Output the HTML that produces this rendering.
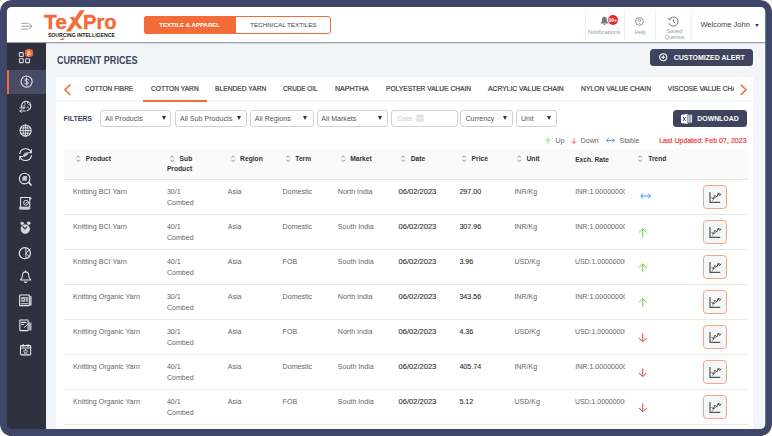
<!DOCTYPE html>
<html>
<head>
<meta charset="utf-8">
<title>TexPro - Current Prices</title>
<style>
*{box-sizing:border-box;margin:0;padding:0}
html,body{width:772px;height:436px;overflow:hidden;background:#fff}
body{font-family:"Liberation Sans",sans-serif;position:relative;color:#555}
.abs{position:absolute}
svg{position:absolute;overflow:visible}
.t{position:absolute;white-space:nowrap;line-height:1;transform-origin:left center}
#bg{left:6px;top:6px;width:760px;height:424px;background:#f2f6f9}
#header{left:6px;top:6px;width:760px;height:36.2px;background:#fff;box-shadow:0 0.6px 1.3px rgba(40,45,60,.55)}
#sidebar{left:6px;top:42.7px;width:40px;height:388px;background:#2f323e}
#sb-active{left:7px;top:69.6px;width:39px;height:24.4px;background:#474c65}
#sb-bar{left:7px;top:69.6px;width:2.3px;height:24.4px;background:#f26b38}
#tabs{left:56.4px;top:76.8px;width:696.8px;height:23.6px;background:#fff}
#tabline{left:56.4px;top:100.4px;width:696.8px;height:2px;background:#f6f9fb}
#card{left:56.4px;top:102.4px;width:696.8px;height:328px;background:#fff}
.sel{position:absolute;top:110.4px;height:16.2px;border:1px solid #d2d2d2;border-radius:3px;background:#fff}
.arr{position:absolute;top:116px;width:0;height:0;border-left:2.5px solid transparent;border-right:2.5px solid transparent;border-top:4.3px solid #2d3142}
#thead{left:64px;top:149.3px;width:683.5px;height:30.6px;background:#fafafa;border-bottom:1px solid #e4e4e4}
.rl{position:absolute;left:64px;width:683.5px;height:1px;background:#e9e9e9}
.cb{position:absolute;left:703px;width:24px;height:24px;border:1px solid #f5a587;border-radius:3.5px;background:#f5f6f7}
</style>
</head>
<body>
<div class="abs" id="bg"></div>
<div class="abs" id="header"></div>
<div class="abs" id="sidebar"></div>
<div class="abs" id="sb-active"></div>
<div class="abs" id="sb-bar"></div>
<div class="abs" id="tabs"></div>
<div class="abs" id="tabline"></div>
<div class="abs" id="card"></div>
<svg style="left:20.6px;top:20.9px" width="12" height="11" viewBox="0 0 12 11"><g stroke="#8c8c8c" stroke-width="0.85" fill="none"><path d="M0.2 2.3H6.8M0.2 5.2H10.6M0.2 8.1H6.8M7.6 1.9L11 5.2L7.6 8.5"/></g></svg>
<span class="t" style="left:44.30px;top:12px;font-size:20.4px;color:#f26b38;font-weight:bold;transform:scaleX(1.03);-webkit-text-stroke:0.35px #f26b38;">Te</span>
<span class="t" style="left:82.70px;top:12px;font-size:20.4px;color:#f26b38;font-weight:bold;transform:scaleX(0.985);-webkit-text-stroke:0.35px #f26b38;">Pro</span>
<svg style="left:58px;top:8px" width="30" height="34" viewBox="58 8 30 34"><path d="M80.1 10.3L84.8 10.3L70.6 31.6L65.9 31.6Z" fill="#f26b38"/><path d="M69.6 16.9L73.8 16.9L82.9 28.7L78.6 28.7Z" fill="#f26b38"/><path d="M60.6 38.7L64.8 38.3L64 39.7L59.8 40Z" fill="#f26b38"/></svg>
<span class="t" style="left:47.90px;top:33px;font-size:5.17px;color:#222;font-weight:bold;">SOURCING INTELLIGENCE</span>
<div class="abs" style="left:144px;top:16px;width:187px;height:17.6px;border:1px solid #f26b38;border-radius:3px;background:#fff"></div>
<div class="abs" style="left:144px;top:16px;width:92px;height:17.6px;background:#f26b38;border-radius:3px 0 0 3px"></div>
<span class="t" style="left:159.30px;top:22px;font-size:6.04px;color:#fff;font-weight:bold;">TEXTILE &amp; APPAREL</span>
<span class="t" style="left:250.20px;top:22px;font-size:6.25px;color:#444;">TECHNICAL TEXTILES</span>
<div class="abs" style="left:585.2px;top:10px;width:1px;height:30px;background:#efefef"></div>
<div class="abs" style="left:624.2px;top:10px;width:1px;height:30px;background:#efefef"></div>
<div class="abs" style="left:655.1px;top:10px;width:1px;height:30px;background:#efefef"></div>
<div class="abs" style="left:691.1px;top:10px;width:1px;height:30px;background:#efefef"></div>
<svg style="left:599.9px;top:14.9px" width="8.8" height="11.4" viewBox="0 0 11 12"><path d="M5.5 0.6C6 0.6 6.3 1 6.3 1.5C8 2 8.6 3.4 8.6 5.2C8.6 7.4 9.4 8.2 10.2 9V9.6H0.8V9C1.6 8.2 2.4 7.4 2.4 5.2C2.4 3.4 3 2 4.7 1.5C4.7 1 5 0.6 5.5 0.6Z" fill="#777"/><path d="M4.3 10.2H6.7C6.7 11 6.2 11.4 5.5 11.4C4.8 11.4 4.3 11 4.3 10.2Z" fill="#777"/></svg>
<div class="abs" style="left:607.5px;top:14.5px;width:10.8px;height:10.8px;background:#e8262c;border-radius:50%"></div>
<span class="t" style="left:608.70px;top:18px;font-size:5px;color:#fff;font-weight:bold;">99+</span>
<span class="t" style="left:588.00px;top:30px;font-size:5.95px;color:#999;">Notifications</span>
<svg style="left:635.2px;top:16.7px" width="8.8" height="8.8" viewBox="0 0 10 10"><circle cx="5" cy="5" r="4.4" fill="none" stroke="#777" stroke-width="0.9"/><path d="M3.6 4C3.6 3 4.2 2.5 5 2.5C5.9 2.5 6.4 3 6.4 3.8C6.4 4.9 5 4.9 5 6.1" fill="none" stroke="#777" stroke-width="0.9"/><circle cx="5" cy="7.5" r="0.55" fill="#777"/></svg>
<span class="t" style="left:634.40px;top:30px;font-size:5.6px;color:#999;">Help</span>
<svg style="left:667.4px;top:15.5px" width="11.8" height="11.4" viewBox="0 0 11 10.6"><path d="M2.2 3.2A4.3 4.3 0 1 1 1.9 6.6" fill="none" stroke="#777" stroke-width="0.9"/><path d="M0.6 1.8L2.1 3.6L4 2.4" fill="none" stroke="#777" stroke-width="0.9"/><path d="M6 2.9V5.4L7.7 6.5" fill="none" stroke="#777" stroke-width="0.9"/></svg>
<span class="t" style="left:666.60px;top:29px;font-size:5.6px;color:#999;">Saved</span>
<span class="t" style="left:664.60px;top:35px;font-size:5.6px;color:#999;">Queries</span>
<span class="t" style="left:700.40px;top:21px;font-size:7.51px;color:#444;">Welcome John</span>
<div class="abs" style="left:754.9px;top:23.5px;width:0;height:0;border-left:2.8px solid transparent;border-right:2.8px solid transparent;border-top:3.2px solid #3d4461"></div>
<svg style="left:16px;top:46px" width="20" height="20" viewBox="16 46 20 20"><g fill="none" stroke="#dadae2" stroke-width="1.05"><rect x="19.4" y="52.6" width="3.9" height="3.9" rx="0.6"/><rect x="19.4" y="58.7" width="3.9" height="3.9" rx="0.6"/><rect x="25.6" y="58.7" width="3.9" height="3.9" rx="0.6"/></g></svg>
<div class="abs" style="left:25px;top:48.8px;width:8.3px;height:8.6px;background:#f26b38;border-radius:3.2px"></div>
<span class="t" style="left:27.30px;top:51px;font-size:5.6px;color:#fff3e6;font-weight:bold;">β</span>
<svg style="left:19.60px;top:75.42px" width="13.2" height="13.2" viewBox="0 0 14 14"><g fill="none" stroke="#e9e9ec" stroke-width="1.1" stroke-linecap="round" stroke-linejoin="round"><circle cx="7" cy="7" r="5.9"/><path d="M8.7 5.2C8.4 4.4 7.8 4.1 7 4.1C6 4.1 5.3 4.7 5.3 5.5C5.3 7.3 8.8 6.5 8.8 8.4C8.8 9.3 8 9.9 7 9.9C6.1 9.9 5.4 9.5 5.1 8.7M7 3.1V10.9" stroke-width="0.95"/></g></svg>
<svg style="left:18.90px;top:99.74px" width="13.2" height="13.2" viewBox="0 0 14 14"><g fill="none" stroke="#e9e9ec" stroke-width="1.1" stroke-linecap="round" stroke-linejoin="round"><path d="M2.9 8.2A5 5 0 1 1 8.6 11.3"/><path d="M5.6 1.9C7 3.2 6.8 4.6 5.6 5.6C4.8 6.3 5.4 7.4 6.6 7.4M9.2 1.8C8.4 3.2 9.2 4.6 10.6 4.8C11.4 4.9 12 5.6 12.2 6.4M8.4 7.6C9.2 7.2 10.2 7.8 10 8.8" stroke-width="0.85"/><path d="M0.8 8.4H5.6M4.2 6.9L5.8 8.4L4.2 9.9M7 11.7H1M2.6 10.2L0.9 11.7L2.6 13.2" stroke-width="0.9"/></g></svg>
<svg style="left:18.90px;top:124.06px" width="13.2" height="13.2" viewBox="0 0 14 14"><g fill="none" stroke="#e9e9ec" stroke-width="1.1" stroke-linecap="round" stroke-linejoin="round"><circle cx="7" cy="7" r="5.9"/><ellipse cx="7" cy="7" rx="2.6" ry="5.9" stroke-width="0.9"/><path d="M1.2 7H12.8M2 4.2H12M2 9.8H12M7 1.1V12.9" stroke-width="0.9"/></g></svg>
<svg style="left:18.70px;top:148.38px" width="13.2" height="13.2" viewBox="0 0 14 14"><g fill="none" stroke="#e9e9ec" stroke-width="1.1" stroke-linecap="round" stroke-linejoin="round"><path d="M0.8 5.9A6.3 6.3 0 0 1 12.9 4.85M13.2 8.1A6.3 6.3 0 0 1 1.08 9.15"/><path d="M13.1 1.7V5H9.9M0.9 12.3V9H4.1" stroke-width="1.1"/><path d="M4.3 8.2C4.6 6.4 6.2 5 8.4 4.6C9.4 4.5 9.9 5.2 9.6 6C9 7.8 7.4 9 5.6 9.2C4.7 9.3 4.2 8.9 4.3 8.2Z" fill="#c6c6cc" stroke="none"/></g></svg>
<svg style="left:18.90px;top:172.70px" width="13.2" height="13.2" viewBox="0 0 14 14"><g fill="none" stroke="#e9e9ec" stroke-width="1.1" stroke-linecap="round" stroke-linejoin="round"><circle cx="5.95" cy="5.95" r="5.6"/><path d="M10.4 10.3L12.9 12.7" stroke-width="1.7"/><path d="M3.5 4.7L5 3.2H8.4V8.3H3.5Z" fill="#c6c6cc" stroke="none"/></g></svg>
<svg style="left:18.90px;top:197.02px" width="13.2" height="13.2" viewBox="0 0 14 14"><g fill="none" stroke="#e9e9ec" stroke-width="1.1" stroke-linecap="round" stroke-linejoin="round"><path d="M1.7 10.4V0.6H11.4V10.4"/><rect x="0.5" y="10.6" width="11.1" height="2.5" rx="0.8" fill="#c9c9cf" stroke-width="0.6"/><circle cx="7.4" cy="6.1" r="2.6" stroke-width="0.95"/><path d="M6.3 6.1L7.2 7L8.6 5.2" stroke-width="0.85"/><circle cx="12.4" cy="1.5" r="0.9" fill="#f1f1f1" stroke="none"/></g></svg>
<svg style="left:18.90px;top:221.34px" width="13.2" height="13.2" viewBox="0 0 14 14"><g fill="none" stroke="#e9e9ec" stroke-width="1.1" stroke-linecap="round" stroke-linejoin="round"><circle cx="6.7" cy="8.6" r="4.6" fill="#d6d6db" stroke-width="0.6"/><circle cx="3.3" cy="2.6" r="1.5" fill="#d6d6db" stroke-width="0.5"/><circle cx="10.3" cy="2.4" r="1.5" fill="#d6d6db" stroke-width="0.5"/><path d="M4.3 5.9L6.1 8.5L8.2 6.2" stroke="#2f323e" stroke-width="1.2"/></g></svg>
<svg style="left:18.90px;top:245.66px" width="13.2" height="13.2" viewBox="0 0 14 14"><g fill="none" stroke="#e9e9ec" stroke-width="1.1" stroke-linecap="round" stroke-linejoin="round"><circle cx="6.2" cy="7.6" r="5.9" stroke-width="1.25"/><path d="M7.3 2.6V12.4M12 3.2L7.5 7.6L11.2 11.8" stroke-width="1.0"/></g></svg>
<svg style="left:18.90px;top:269.98px" width="13.2" height="13.2" viewBox="0 0 14 14"><g fill="none" stroke="#e9e9ec" stroke-width="1.1" stroke-linecap="round" stroke-linejoin="round"><path d="M7 2C4.6 2 3.6 3.9 3.6 6.2C3.6 8.4 2.8 9.4 1.6 10.6H12.4C11.2 9.4 10.4 8.4 10.4 6.2C10.4 3.9 9.4 2 7 2Z"/><path d="M5.6 12.4C5.8 13 6.3 13.3 7 13.3C7.7 13.3 8.2 13 8.4 12.4M7 0.8V2"/></g></svg>
<svg style="left:18.90px;top:294.30px" width="13.2" height="13.2" viewBox="0 0 14 14"><g fill="none" stroke="#e9e9ec" stroke-width="1.1" stroke-linecap="round" stroke-linejoin="round"><rect x="0.7" y="1.1" width="10.3" height="11.3" rx="0.5" stroke-width="1.2"/><rect x="11.6" y="2.2" width="1.9" height="10" fill="#b4b4bc" stroke="none"/><rect x="2.5" y="3.2" width="7" height="5" fill="#c2c2c9" stroke="none"/><circle cx="4.3" cy="5.9" r="0.85" fill="#2f323e" stroke="none"/><path d="M7.1 4.3V8" stroke="#2f323e" stroke-width="0.9"/><path d="M2.6 10.3H9.4" stroke-width="1.2"/></g></svg>
<svg style="left:18.90px;top:318.62px" width="13.2" height="13.2" viewBox="0 0 14 14"><g fill="none" stroke="#e9e9ec" stroke-width="1.1" stroke-linecap="round" stroke-linejoin="round"><rect x="0.9" y="1.1" width="8.8" height="11.2" rx="0.5" stroke-width="1.15"/><rect x="10.2" y="3.6" width="3.1" height="8.6" fill="#a9a9b2" stroke="none"/><path d="M2.7 3.6H7.3" stroke-width="1.3"/><path d="M2.7 5.9H4.9" stroke-width="1.0"/><path d="M10.1 5L5.8 8.7" stroke-width="1.0"/></g></svg>
<svg style="left:18.90px;top:342.94px" width="13.2" height="13.2" viewBox="0 0 14 14"><g fill="none" stroke="#e9e9ec" stroke-width="1.1" stroke-linecap="round" stroke-linejoin="round"><rect x="1.6" y="2.8" width="10.8" height="9.8" rx="0.8"/><path d="M1.6 5.4H12.4M4.4 1.4V3.8M9.6 1.4V3.8"/><path d="M7 6.8L7.7 8.3L9.3 8.5L8.1 9.6L8.4 11.2L7 10.4L5.6 11.2L5.9 9.6L4.7 8.5L6.3 8.3Z" stroke-width="0.8"/></g></svg>
<span class="t" style="left:57.30px;top:56px;font-size:10.3px;color:#3d4461;font-weight:bold;transform:scaleX(0.88);">CURRENT PRICES</span>
<div class="abs" style="left:650px;top:49px;width:103px;height:17px;background:#3e445e;border-radius:3.5px"></div>
<svg style="left:658.8px;top:53.4px" width="8.4" height="8.4" viewBox="0 0 10 10"><circle cx="5" cy="5" r="4.2" fill="none" stroke="#fff" stroke-width="1.3"/><path d="M5 2.8V7.2M2.8 5H7.2" stroke="#fff" stroke-width="1.3"/></svg>
<span class="t" style="left:673.70px;top:54px;font-size:6.99px;color:#fff;font-weight:bold;">CUSTOMIZED ALERT</span>
<span class="t" style="left:85.00px;top:86px;font-size:6.7px;color:#444;transform:scaleX(0.97);-webkit-text-stroke:0.22px #444;">COTTON FIBRE</span>
<span class="t" style="left:150.60px;top:86px;font-size:6.7px;color:#444;transform:scaleX(0.996);-webkit-text-stroke:0.22px #444;">COTTON YARN</span>
<span class="t" style="left:215.00px;top:86px;font-size:6.7px;color:#444;transform:scaleX(1.0);-webkit-text-stroke:0.22px #444;">BLENDED YARN</span>
<span class="t" style="left:283.40px;top:86px;font-size:6.7px;color:#444;transform:scaleX(0.948);-webkit-text-stroke:0.22px #444;">CRUDE OIL</span>
<span class="t" style="left:335.20px;top:86px;font-size:6.7px;color:#444;transform:scaleX(1.055);-webkit-text-stroke:0.22px #444;">NAPHTHA</span>
<span class="t" style="left:386.00px;top:86px;font-size:6.7px;color:#444;transform:scaleX(0.994);-webkit-text-stroke:0.22px #444;">POLYESTER VALUE CHAIN</span>
<span class="t" style="left:487.50px;top:86px;font-size:6.7px;color:#444;transform:scaleX(1.012);-webkit-text-stroke:0.22px #444;">ACRYLIC VALUE CHAIN</span>
<span class="t" style="left:580.70px;top:86px;font-size:6.7px;color:#444;transform:scaleX(1.016);-webkit-text-stroke:0.22px #444;">NYLON VALUE CHAIN</span>
<div class="abs" style="left:667.8px;top:80px;width:66.2px;height:18px;overflow:hidden"><span class="t" style="left:0.00px;top:6px;font-size:6.7px;color:#444;-webkit-text-stroke:0.22px #444;">VISCOSE VALUE CHAIN</span>
</div>
<div class="abs" style="left:142.5px;top:100px;width:64.5px;height:2px;background:#f26b38"></div>
<svg style="left:63.8px;top:83.7px" width="7" height="11.6" viewBox="0 0 7 11.6"><path d="M6.2 0.6L1 5.8L6.2 11" fill="none" stroke="#f26b38" stroke-width="1.5"/></svg>
<svg style="left:740px;top:83.7px" width="7" height="11.6" viewBox="0 0 7 11.6"><path d="M0.8 0.6L6 5.8L0.8 11" fill="none" stroke="#f26b38" stroke-width="1.5"/></svg>
<span class="t" style="left:63.50px;top:116px;font-size:6.96px;color:#3d4461;font-weight:bold;">FILTERS</span>
<div class="sel" style="left:100.4px;width:70.8px"></div>
<span class="t" style="left:105.00px;top:116px;font-size:7.1px;color:#555;">All Products</span>
<div class="arr" style="left:161.5px"></div>
<div class="sel" style="left:175.1px;width:71.8px"></div>
<span class="t" style="left:180.00px;top:116px;font-size:7.1px;color:#555;">All Sub Products</span>
<div class="arr" style="left:236.5px"></div>
<div class="sel" style="left:249.8px;width:63.8px"></div>
<span class="t" style="left:254.80px;top:116px;font-size:7.1px;color:#555;">All Regions</span>
<div class="arr" style="left:303.0px"></div>
<div class="sel" style="left:316.7px;width:71.5px"></div>
<span class="t" style="left:321.30px;top:116px;font-size:7.1px;color:#555;">All Markets</span>
<div class="arr" style="left:377.9px"></div>
<div class="sel" style="left:460.4px;width:52.6px"></div>
<span class="t" style="left:465.50px;top:116px;font-size:7.1px;color:#555;">Currency</span>
<div class="arr" style="left:502.9px"></div>
<div class="sel" style="left:516px;width:40.7px"></div>
<span class="t" style="left:521.00px;top:116px;font-size:7.1px;color:#555;">Unit</span>
<div class="arr" style="left:546.7px"></div>
<div class="sel" style="left:391.4px;width:66.3px"></div>
<span class="t" style="left:397.60px;top:116px;font-size:7.1px;color:#cfcfcf;">Date</span>
<svg style="left:416.2px;top:114.4px" width="7.9" height="7.9" viewBox="0 0 8 8"><rect x="0.3" y="1" width="7.4" height="6.8" rx="0.8" fill="#d6d6d6"/><path d="M0.3 3H7.7" stroke="#fff" stroke-width="0.6"/><path d="M2.7 3V7.8M5.2 3V7.8M0.3 4.7H7.7M0.3 6.3H7.7" stroke="#fff" stroke-width="0.45"/><path d="M2.1 0.2V1.6M5.9 0.2V1.6" stroke="#d6d6d6" stroke-width="0.9"/></svg>
<div class="abs" style="left:673px;top:110px;width:74px;height:17px;background:#3e445e;border-radius:3.5px"></div>
<svg style="left:680px;top:112px" width="14" height="14" viewBox="680 112 14 14"><path d="M681 115.1L687.5 113.8V124.1L681 122.9Z" fill="#fff"/><path d="M683 117L685.6 120.9M685.6 117L683 120.9" stroke="#3d4461" stroke-width="0.95"/><path d="M688.2 114.7H692.1V122.7H688.2Z" fill="#e9eaee"/><path d="M689.55 114.7V122.7M690.85 114.7V122.7" stroke="#3d4461" stroke-width="0.45"/></svg>
<span class="t" style="left:697.30px;top:116px;font-size:6.9px;color:#fff;font-weight:bold;">DOWNLOAD</span>
<svg style="left:545.30px;top:137.60px" width="6.0" height="6.0" viewBox="0 0 10 10"><path d="M5 9.4V1M1 4.8L5 0.8L9 4.8" fill="none" stroke="#62d13e" stroke-width="1.25"/></svg>
<span class="t" style="left:555.50px;top:137px;font-size:7.0px;color:#666;">Up</span>
<svg style="left:570.70px;top:137.80px" width="6.0" height="6.0" viewBox="0 0 10 10"><path d="M5 0.6V9M1 5.2L5 9.2L9 5.2" fill="none" stroke="#ef3a3f" stroke-width="1.25"/></svg>
<span class="t" style="left:580.80px;top:137px;font-size:7.0px;color:#666;">Down</span>
<svg style="left:606.02px;top:138.30px" width="8.959999999999999" height="4.800000000000001" viewBox="0 0 11.2 6"><path d="M0.8 3H10.4M3.2 0.5L0.7 3L3.2 5.5M8 0.5L10.5 3L8 5.5" fill="none" stroke="#3d8ff0" stroke-width="1.12"/></svg>
<span class="t" style="left:619.50px;top:137px;font-size:7.0px;color:#666;">Stable</span>
<span class="t" style="left:659.20px;top:137px;font-size:7.06px;color:#ee3b40;-webkit-text-stroke:0.2px #ee3b40;">Last Updated: Feb 07, 2023</span>
<div class="abs" id="thead"></div>
<span class="t" style="left:85.80px;top:156px;font-size:6.7px;color:#333;font-weight:bold;">Product</span>
<svg style="left:75.80000000000001px;top:155.0px" width="4.4" height="7.4" viewBox="0 0 4.4 7.4"><path d="M0.5 2.6L2.2 0.8L3.9 2.6M0.5 4.8L2.2 6.6L3.9 4.8" fill="none" stroke="#929292" stroke-width="1"/></svg>
<span class="t" style="left:179.60px;top:156px;font-size:6.7px;color:#333;font-weight:bold;">Sub</span>
<svg style="left:169.9px;top:155.0px" width="4.4" height="7.4" viewBox="0 0 4.4 7.4"><path d="M0.5 2.6L2.2 0.8L3.9 2.6M0.5 4.8L2.2 6.6L3.9 4.8" fill="none" stroke="#929292" stroke-width="1"/></svg>
<span class="t" style="left:240.10px;top:156px;font-size:6.7px;color:#333;font-weight:bold;">Region</span>
<svg style="left:231.20000000000002px;top:155.0px" width="4.4" height="7.4" viewBox="0 0 4.4 7.4"><path d="M0.5 2.6L2.2 0.8L3.9 2.6M0.5 4.8L2.2 6.6L3.9 4.8" fill="none" stroke="#929292" stroke-width="1"/></svg>
<span class="t" style="left:295.30px;top:156px;font-size:6.7px;color:#333;font-weight:bold;">Term</span>
<svg style="left:285.79999999999995px;top:155.0px" width="4.4" height="7.4" viewBox="0 0 4.4 7.4"><path d="M0.5 2.6L2.2 0.8L3.9 2.6M0.5 4.8L2.2 6.6L3.9 4.8" fill="none" stroke="#929292" stroke-width="1"/></svg>
<span class="t" style="left:350.20px;top:156px;font-size:6.7px;color:#333;font-weight:bold;">Market</span>
<svg style="left:340.79999999999995px;top:155.0px" width="4.4" height="7.4" viewBox="0 0 4.4 7.4"><path d="M0.5 2.6L2.2 0.8L3.9 2.6M0.5 4.8L2.2 6.6L3.9 4.8" fill="none" stroke="#929292" stroke-width="1"/></svg>
<span class="t" style="left:410.70px;top:156px;font-size:6.7px;color:#333;font-weight:bold;">Date</span>
<svg style="left:401.29999999999995px;top:155.0px" width="4.4" height="7.4" viewBox="0 0 4.4 7.4"><path d="M0.5 2.6L2.2 0.8L3.9 2.6M0.5 4.8L2.2 6.6L3.9 4.8" fill="none" stroke="#929292" stroke-width="1"/></svg>
<span class="t" style="left:471.60px;top:156px;font-size:6.7px;color:#333;font-weight:bold;">Price</span>
<svg style="left:462.2px;top:155.0px" width="4.4" height="7.4" viewBox="0 0 4.4 7.4"><path d="M0.5 2.6L2.2 0.8L3.9 2.6M0.5 4.8L2.2 6.6L3.9 4.8" fill="none" stroke="#929292" stroke-width="1"/></svg>
<span class="t" style="left:526.50px;top:156px;font-size:6.7px;color:#333;font-weight:bold;">Unit</span>
<svg style="left:517.3px;top:155.0px" width="4.4" height="7.4" viewBox="0 0 4.4 7.4"><path d="M0.5 2.6L2.2 0.8L3.9 2.6M0.5 4.8L2.2 6.6L3.9 4.8" fill="none" stroke="#929292" stroke-width="1"/></svg>
<span class="t" style="left:648.20px;top:156px;font-size:6.7px;color:#333;font-weight:bold;">Trend</span>
<svg style="left:638.4px;top:155.0px" width="4.4" height="7.4" viewBox="0 0 4.4 7.4"><path d="M0.5 2.6L2.2 0.8L3.9 2.6M0.5 4.8L2.2 6.6L3.9 4.8" fill="none" stroke="#929292" stroke-width="1"/></svg>
<span class="t" style="left:166.90px;top:166px;font-size:6.7px;color:#333;font-weight:bold;">Product</span>
<span class="t" style="left:575.20px;top:157px;font-size:6.6px;color:#333;font-weight:bold;">Exch. Rate</span>
<span class="t" style="left:73.10px;top:189px;font-size:7.1px;color:#666;">Knitting BCI Yarn</span>
<span class="t" style="left:166.90px;top:189px;font-size:7.1px;color:#666;">30/1</span>
<span class="t" style="left:166.90px;top:200px;font-size:7.1px;color:#666;">Combed</span>
<span class="t" style="left:227.70px;top:189px;font-size:7.1px;color:#666;">Asia</span>
<span class="t" style="left:282.60px;top:189px;font-size:7.1px;color:#666;">Domestic</span>
<span class="t" style="left:337.80px;top:189px;font-size:7.1px;color:#666;">North India</span>
<span class="t" style="left:398.50px;top:188px;font-size:7.55px;color:#333;-webkit-text-stroke:0.12px #333;">06/02/2023</span>
<span class="t" style="left:459.40px;top:189px;font-size:7.15px;color:#333;-webkit-text-stroke:0.12px #333;">297.00</span>
<span class="t" style="left:514.40px;top:189px;font-size:7.1px;color:#666;">INR/Kg</span>
<div class="abs" style="left:575.2px;top:186.00px;width:50.2px;height:12px;overflow:hidden"><span class="t" style="left:0.00px;top:3px;font-size:7.1px;color:#666;">INR:1.00000000</span>
</div>
<svg style="left:640.00px;top:193.30px" width="11.2" height="6.0" viewBox="0 0 11.2 6"><path d="M0.8 3H10.4M3.2 0.5L0.7 3L3.2 5.5M8 0.5L10.5 3L8 5.5" fill="none" stroke="#3d8ff0" stroke-width="0.95"/></svg>
<div class="cb" style="top:185px"><svg style="left:-1px;top:-1px" width="24" height="24" viewBox="703 185 24 24"><path d="M710 191.9V202.3H720.2" fill="none" stroke="#555" stroke-width="1.25"/><path d="M711.9 200.9L719.9 193.1" fill="none" stroke="#555" stroke-width="0.7"/><path d="M711.6 197.0L713.2 199.0L714.9 195.2L716.8 197.1L718.2 193.2L719.7 195.5L721.2 193.7" fill="none" stroke="#4a4a4a" stroke-width="0.95"/></svg></div>
<div class="rl" style="top:213.90px"></div>
<span class="t" style="left:73.10px;top:224px;font-size:7.1px;color:#666;">Knitting BCI Yarn</span>
<span class="t" style="left:166.90px;top:224px;font-size:7.1px;color:#666;">40/1</span>
<span class="t" style="left:166.90px;top:235px;font-size:7.1px;color:#666;">Combed</span>
<span class="t" style="left:227.70px;top:224px;font-size:7.1px;color:#666;">Asia</span>
<span class="t" style="left:282.60px;top:224px;font-size:7.1px;color:#666;">Domestic</span>
<span class="t" style="left:337.80px;top:224px;font-size:7.1px;color:#666;">South India</span>
<span class="t" style="left:398.50px;top:223px;font-size:7.55px;color:#333;-webkit-text-stroke:0.12px #333;">06/02/2023</span>
<span class="t" style="left:459.40px;top:224px;font-size:7.15px;color:#333;-webkit-text-stroke:0.12px #333;">307.96</span>
<span class="t" style="left:514.40px;top:224px;font-size:7.1px;color:#666;">INR/Kg</span>
<div class="abs" style="left:575.2px;top:221.00px;width:50.2px;height:12px;overflow:hidden"><span class="t" style="left:0.00px;top:3px;font-size:7.1px;color:#666;">INR:1.00000000</span>
</div>
<svg style="left:637.75px;top:227.65px" width="9.5" height="9.5" viewBox="0 0 10 10"><path d="M5 9.4V1M1 4.8L5 0.8L9 4.8" fill="none" stroke="#62d13e" stroke-width="1.05"/></svg>
<div class="cb" style="top:220px"><svg style="left:-1px;top:-1px" width="24" height="24" viewBox="703 185 24 24"><path d="M710 191.9V202.3H720.2" fill="none" stroke="#555" stroke-width="1.25"/><path d="M711.9 200.9L719.9 193.1" fill="none" stroke="#555" stroke-width="0.7"/><path d="M711.6 197.0L713.2 199.0L714.9 195.2L716.8 197.1L718.2 193.2L719.7 195.5L721.2 193.7" fill="none" stroke="#4a4a4a" stroke-width="0.95"/></svg></div>
<div class="rl" style="top:248.90px"></div>
<span class="t" style="left:73.10px;top:259px;font-size:7.1px;color:#666;">Knitting BCI Yarn</span>
<span class="t" style="left:166.90px;top:259px;font-size:7.1px;color:#666;">40/1</span>
<span class="t" style="left:166.90px;top:270px;font-size:7.1px;color:#666;">Combed</span>
<span class="t" style="left:227.70px;top:259px;font-size:7.1px;color:#666;">Asia</span>
<span class="t" style="left:282.60px;top:259px;font-size:7.1px;color:#666;">FOB</span>
<span class="t" style="left:337.80px;top:259px;font-size:7.1px;color:#666;">South India</span>
<span class="t" style="left:398.50px;top:258px;font-size:7.55px;color:#333;-webkit-text-stroke:0.12px #333;">06/02/2023</span>
<span class="t" style="left:459.40px;top:259px;font-size:7.15px;color:#333;-webkit-text-stroke:0.12px #333;">3.96</span>
<span class="t" style="left:514.40px;top:259px;font-size:7.1px;color:#666;">USD/Kg</span>
<div class="abs" style="left:575.2px;top:256.00px;width:50.2px;height:12px;overflow:hidden"><span class="t" style="left:0.00px;top:3px;font-size:7.1px;color:#666;transform:scaleX(0.975);">USD:1.00000000</span>
</div>
<svg style="left:637.75px;top:262.65px" width="9.5" height="9.5" viewBox="0 0 10 10"><path d="M5 9.4V1M1 4.8L5 0.8L9 4.8" fill="none" stroke="#62d13e" stroke-width="1.05"/></svg>
<div class="cb" style="top:255px"><svg style="left:-1px;top:-1px" width="24" height="24" viewBox="703 185 24 24"><path d="M710 191.9V202.3H720.2" fill="none" stroke="#555" stroke-width="1.25"/><path d="M711.9 200.9L719.9 193.1" fill="none" stroke="#555" stroke-width="0.7"/><path d="M711.6 197.0L713.2 199.0L714.9 195.2L716.8 197.1L718.2 193.2L719.7 195.5L721.2 193.7" fill="none" stroke="#4a4a4a" stroke-width="0.95"/></svg></div>
<div class="rl" style="top:283.90px"></div>
<span class="t" style="left:73.10px;top:294px;font-size:7.1px;color:#666;">Knitting Organic Yarn</span>
<span class="t" style="left:166.90px;top:294px;font-size:7.1px;color:#666;">30/1</span>
<span class="t" style="left:166.90px;top:305px;font-size:7.1px;color:#666;">Combed</span>
<span class="t" style="left:227.70px;top:294px;font-size:7.1px;color:#666;">Asia</span>
<span class="t" style="left:282.60px;top:294px;font-size:7.1px;color:#666;">Domestic</span>
<span class="t" style="left:337.80px;top:294px;font-size:7.1px;color:#666;">North India</span>
<span class="t" style="left:398.50px;top:293px;font-size:7.55px;color:#333;-webkit-text-stroke:0.12px #333;">06/02/2023</span>
<span class="t" style="left:459.40px;top:294px;font-size:7.15px;color:#333;-webkit-text-stroke:0.12px #333;">343.56</span>
<span class="t" style="left:514.40px;top:294px;font-size:7.1px;color:#666;">INR/Kg</span>
<div class="abs" style="left:575.2px;top:291.00px;width:50.2px;height:12px;overflow:hidden"><span class="t" style="left:0.00px;top:3px;font-size:7.1px;color:#666;">INR:1.00000000</span>
</div>
<svg style="left:637.75px;top:297.65px" width="9.5" height="9.5" viewBox="0 0 10 10"><path d="M5 9.4V1M1 4.8L5 0.8L9 4.8" fill="none" stroke="#62d13e" stroke-width="1.05"/></svg>
<div class="cb" style="top:290px"><svg style="left:-1px;top:-1px" width="24" height="24" viewBox="703 185 24 24"><path d="M710 191.9V202.3H720.2" fill="none" stroke="#555" stroke-width="1.25"/><path d="M711.9 200.9L719.9 193.1" fill="none" stroke="#555" stroke-width="0.7"/><path d="M711.6 197.0L713.2 199.0L714.9 195.2L716.8 197.1L718.2 193.2L719.7 195.5L721.2 193.7" fill="none" stroke="#4a4a4a" stroke-width="0.95"/></svg></div>
<div class="rl" style="top:318.90px"></div>
<span class="t" style="left:73.10px;top:329px;font-size:7.1px;color:#666;">Knitting Organic Yarn</span>
<span class="t" style="left:166.90px;top:329px;font-size:7.1px;color:#666;">30/1</span>
<span class="t" style="left:166.90px;top:340px;font-size:7.1px;color:#666;">Combed</span>
<span class="t" style="left:227.70px;top:329px;font-size:7.1px;color:#666;">Asia</span>
<span class="t" style="left:282.60px;top:329px;font-size:7.1px;color:#666;">FOB</span>
<span class="t" style="left:337.80px;top:329px;font-size:7.1px;color:#666;">North India</span>
<span class="t" style="left:398.50px;top:328px;font-size:7.55px;color:#333;-webkit-text-stroke:0.12px #333;">06/02/2023</span>
<span class="t" style="left:459.40px;top:329px;font-size:7.15px;color:#333;-webkit-text-stroke:0.12px #333;">4.36</span>
<span class="t" style="left:514.40px;top:329px;font-size:7.1px;color:#666;">USD/Kg</span>
<div class="abs" style="left:575.2px;top:326.00px;width:50.2px;height:12px;overflow:hidden"><span class="t" style="left:0.00px;top:3px;font-size:7.1px;color:#666;transform:scaleX(0.975);">USD:1.00000000</span>
</div>
<svg style="left:637.75px;top:332.85px" width="9.5" height="9.5" viewBox="0 0 10 10"><path d="M5 0.6V9M1 5.2L5 9.2L9 5.2" fill="none" stroke="#ef3a3f" stroke-width="1.05"/></svg>
<div class="cb" style="top:325px"><svg style="left:-1px;top:-1px" width="24" height="24" viewBox="703 185 24 24"><path d="M710 191.9V202.3H720.2" fill="none" stroke="#555" stroke-width="1.25"/><path d="M711.9 200.9L719.9 193.1" fill="none" stroke="#555" stroke-width="0.7"/><path d="M711.6 197.0L713.2 199.0L714.9 195.2L716.8 197.1L718.2 193.2L719.7 195.5L721.2 193.7" fill="none" stroke="#4a4a4a" stroke-width="0.95"/></svg></div>
<div class="rl" style="top:353.90px"></div>
<span class="t" style="left:73.10px;top:364px;font-size:7.1px;color:#666;">Knitting Organic Yarn</span>
<span class="t" style="left:166.90px;top:364px;font-size:7.1px;color:#666;">40/1</span>
<span class="t" style="left:166.90px;top:375px;font-size:7.1px;color:#666;">Combed</span>
<span class="t" style="left:227.70px;top:364px;font-size:7.1px;color:#666;">Asia</span>
<span class="t" style="left:282.60px;top:364px;font-size:7.1px;color:#666;">Domestic</span>
<span class="t" style="left:337.80px;top:364px;font-size:7.1px;color:#666;">South India</span>
<span class="t" style="left:398.50px;top:363px;font-size:7.55px;color:#333;-webkit-text-stroke:0.12px #333;">06/02/2023</span>
<span class="t" style="left:459.40px;top:364px;font-size:7.15px;color:#333;-webkit-text-stroke:0.12px #333;">405.74</span>
<span class="t" style="left:514.40px;top:364px;font-size:7.1px;color:#666;">INR/Kg</span>
<div class="abs" style="left:575.2px;top:361.00px;width:50.2px;height:12px;overflow:hidden"><span class="t" style="left:0.00px;top:3px;font-size:7.1px;color:#666;">INR:1.00000000</span>
</div>
<svg style="left:637.75px;top:367.85px" width="9.5" height="9.5" viewBox="0 0 10 10"><path d="M5 0.6V9M1 5.2L5 9.2L9 5.2" fill="none" stroke="#ef3a3f" stroke-width="1.05"/></svg>
<div class="cb" style="top:360px"><svg style="left:-1px;top:-1px" width="24" height="24" viewBox="703 185 24 24"><path d="M710 191.9V202.3H720.2" fill="none" stroke="#555" stroke-width="1.25"/><path d="M711.9 200.9L719.9 193.1" fill="none" stroke="#555" stroke-width="0.7"/><path d="M711.6 197.0L713.2 199.0L714.9 195.2L716.8 197.1L718.2 193.2L719.7 195.5L721.2 193.7" fill="none" stroke="#4a4a4a" stroke-width="0.95"/></svg></div>
<div class="rl" style="top:388.90px"></div>
<span class="t" style="left:73.10px;top:399px;font-size:7.1px;color:#666;">Knitting Organic Yarn</span>
<span class="t" style="left:166.90px;top:399px;font-size:7.1px;color:#666;">40/1</span>
<span class="t" style="left:166.90px;top:410px;font-size:7.1px;color:#666;">Combed</span>
<span class="t" style="left:227.70px;top:399px;font-size:7.1px;color:#666;">Asia</span>
<span class="t" style="left:282.60px;top:399px;font-size:7.1px;color:#666;">FOB</span>
<span class="t" style="left:337.80px;top:399px;font-size:7.1px;color:#666;">South India</span>
<span class="t" style="left:398.50px;top:398px;font-size:7.55px;color:#333;-webkit-text-stroke:0.12px #333;">06/02/2023</span>
<span class="t" style="left:459.40px;top:399px;font-size:7.15px;color:#333;-webkit-text-stroke:0.12px #333;">5.12</span>
<span class="t" style="left:514.40px;top:399px;font-size:7.1px;color:#666;">USD/Kg</span>
<div class="abs" style="left:575.2px;top:396.00px;width:50.2px;height:12px;overflow:hidden"><span class="t" style="left:0.00px;top:3px;font-size:7.1px;color:#666;transform:scaleX(0.975);">USD:1.00000000</span>
</div>
<svg style="left:637.75px;top:402.85px" width="9.5" height="9.5" viewBox="0 0 10 10"><path d="M5 0.6V9M1 5.2L5 9.2L9 5.2" fill="none" stroke="#ef3a3f" stroke-width="1.05"/></svg>
<div class="cb" style="top:395px"><svg style="left:-1px;top:-1px" width="24" height="24" viewBox="703 185 24 24"><path d="M710 191.9V202.3H720.2" fill="none" stroke="#555" stroke-width="1.25"/><path d="M711.9 200.9L719.9 193.1" fill="none" stroke="#555" stroke-width="0.7"/><path d="M711.6 197.0L713.2 199.0L714.9 195.2L716.8 197.1L718.2 193.2L719.7 195.5L721.2 193.7" fill="none" stroke="#4a4a4a" stroke-width="0.95"/></svg></div>
<div class="rl" style="top:423.90px"></div>
<svg style="left:0;top:0;z-index:50" width="772" height="436" viewBox="0 0 772 436"><path fill-rule="evenodd" fill="#3f4769" d="M11.5 0H760.5A11.5 11.5 0 0 1 772 11.5V424.5A11.5 11.5 0 0 1 760.5 436H11.5A11.5 11.5 0 0 1 0 424.5V11.5A11.5 11.5 0 0 1 11.5 0ZM11.5 6.9H760.6999999999999A4.6 4.6 0 0 1 765.3 11.5V424.29999999999995A4.6 4.6 0 0 1 760.6999999999999 428.9H11.5A4.6 4.6 0 0 1 6.9 424.29999999999995V11.5A4.6 4.6 0 0 1 11.5 6.9Z"/><path fill-rule="evenodd" fill="#fff" d="M-1 -1H773V437H-1ZM11.5 0H760.5A11.5 11.5 0 0 1 772 11.5V424.5A11.5 11.5 0 0 1 760.5 436H11.5A11.5 11.5 0 0 1 0 424.5V11.5A11.5 11.5 0 0 1 11.5 0Z"/></svg>
</body>
</html>
